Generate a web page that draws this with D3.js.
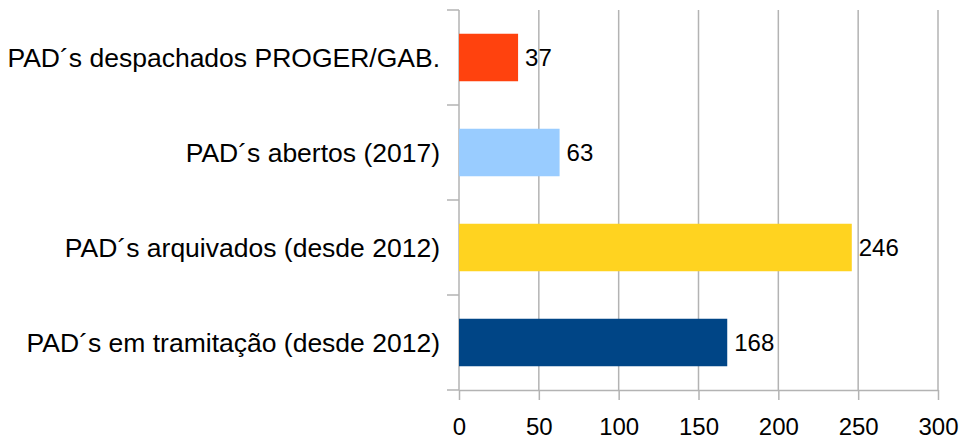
<!DOCTYPE html>
<html lang="pt">
<head>
  <meta charset="UTF-8">
  <title>PADs</title>
  <style>
    body { margin: 0; background: #fff; }
    svg { display: block; font-family: "Liberation Sans", Arial, sans-serif; }
    .grid line { stroke: #b3b3b3; stroke-width: 1.5; }
    .axis path, .axis line { stroke: #b3b3b3; stroke-width: 1.5; }
    .axis text { fill: #000; font-size: 24px; }
    .axis text.cat { font-size: 26.5px; }
    .value { font-size: 24px; fill: #000; }
  </style>
</head>
<body>
  <script src="https://d3js.org/d3.v7.min.js"></script>
  <script>
    // data, top to bottom
    const categories = [
      'PAD´s despachados PROGER/GAB.',
      'PAD´s abertos (2017)',
      'PAD´s arquivados (desde 2012)',
      'PAD´s em tramitação (desde 2012)'
    ];
    const values = [37, 63, 246, 168];
    const colors = ['#ff420e', '#99ccff', '#ffd320', '#004586'];
    const xTicks = [0, 50, 100, 150, 200, 250, 300];

    const WIDTH = 962;
    const HEIGHT = 439;
    const margin = {top: 10, right: 24, bottom: 49, left: 459};
    const innerW = WIDTH - margin.left - margin.right;
    const innerH = HEIGHT - margin.top - margin.bottom;

    const svg = d3.select('body').append('svg')
      .attr('width', WIDTH)
      .attr('height', HEIGHT);

    const chart = svg.append('g')
      .attr('transform', `translate(${margin.left},${margin.top})`);

    const scaleX = d3.scaleLinear().domain([0, 300]).range([0, innerW]);
    const scaleY = d3.scaleBand().domain(categories).range([0, innerH]).paddingInner(0.5).paddingOuter(0.25);

    // vertical grid lines
    chart.append('g').attr('class', 'grid')
      .selectAll('line')
      .data(xTicks.slice(1))
      .join('line')
      .attr('x1', d => scaleX(d)).attr('x2', d => scaleX(d))
      .attr('y1', 0).attr('y2', innerH);

    // y axis: ticks sit between the categories
    const bandStep = innerH / categories.length;
    const yAxisG = chart.append('g').attr('class', 'axis');
    yAxisG.append('line')
      .attr('x1', 0).attr('x2', 0).attr('y1', 0).attr('y2', innerH);
    yAxisG.selectAll('line.tick')
      .data(d3.range(categories.length + 1))
      .join('line')
      .attr('class', 'tick')
      .attr('x1', -12).attr('x2', 0)
      .attr('y1', d => d * bandStep).attr('y2', d => d * bandStep);
    yAxisG.selectAll('text')
      .data(categories)
      .join('text')
      .attr('class', 'cat')
      .attr('x', -19)
      .attr('y', d => scaleY(d) + scaleY.bandwidth() / 2)
      .attr('dy', '0.36em')
      .attr('text-anchor', 'end')
      .text(d => d);

    // x axis
    const xAxis = d3.axisBottom(scaleX).tickValues(xTicks).tickSize(10).tickPadding(18).tickSizeOuter(0);
    chart.append('g').attr('class', 'axis')
      .attr('transform', `translate(0,${innerH})`)
      .call(xAxis);

    // bars
    chart.selectAll('rect.bar')
      .data(values)
      .join('rect')
      .attr('class', 'bar')
      .attr('x', 0)
      .attr('y', (d, i) => scaleY(categories[i]))
      .attr('width', d => scaleX(d))
      .attr('height', scaleY.bandwidth())
      .attr('fill', (d, i) => colors[i]);

    // value labels
    chart.selectAll('text.value')
      .data(values)
      .join('text')
      .attr('class', 'value')
      .attr('x', d => scaleX(d) + 7)
      .attr('y', (d, i) => scaleY(categories[i]) + scaleY.bandwidth() / 2)
      .attr('dy', '0.36em')
      .text(d => d);
  </script>
</body>
</html>
